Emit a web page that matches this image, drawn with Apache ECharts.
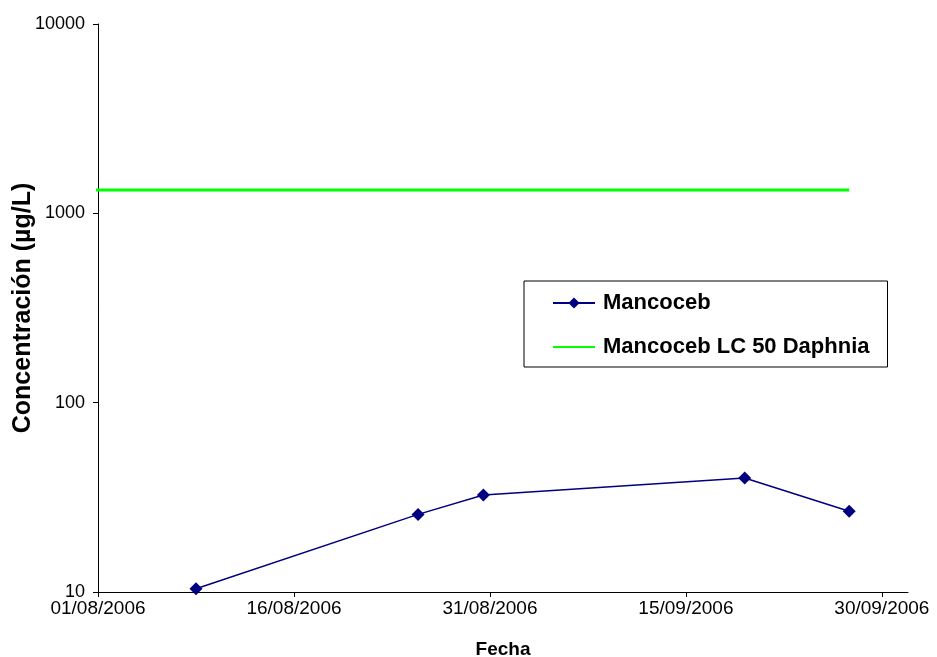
<!DOCTYPE html>
<html>
<head>
<meta charset="utf-8">
<script src="https://cdn.jsdelivr.net/npm/echarts@6/dist/echarts.min.js"></script>
<style>
html,body{margin:0;padding:0;background:#fff;}
#chart{width:937px;height:657px;}
</style>
</head>
<body>
<div id="chart"></div>
<script>
// Data
const axisStartDate = '2006-08-01';
const axisEndDate = '2006-10-02';
const tickStepDays = 15;
const mancocebDates = ['2006-08-08', '2006-08-25', '2006-08-30', '2006-09-19', '2006-09-27'];
const mancocebValues = [10.4, 25.7, 32.5, 40.0, 26.7];
const lc50Dates = ['2006-07-31', '2006-09-27'];
const lc50Values = [1330, 1330];
const yTicks = [10, 100, 1000, 10000];

const DAY = 86400000;
const t0 = Date.parse(axisStartDate + 'T00:00:00Z');
// days since axis start; Excel date axis puts each date at the middle of its day
function dayPos(d) { return (Date.parse(d + 'T00:00:00Z') - t0) / DAY + 0.5; }
function pad(n) { return (n < 10 ? '0' : '') + n; }
function fmt(days) {
  const d = new Date(t0 + Math.round(days) * DAY);
  return pad(d.getUTCDate()) + '/' + pad(d.getUTCMonth() + 1) + '/' + d.getUTCFullYear();
}
const xMax = (Date.parse(axisEndDate + 'T00:00:00Z') - t0) / DAY;

const FONT = "'Liberation Sans', Arial, sans-serif";
const chart = echarts.init(document.getElementById('chart'), null, {renderer: 'canvas'});
chart.setOption({
  animation: false,
  backgroundColor: '#fff',
  grid: {left: 98, right: 29, top: 24, bottom: 65, containLabel: false, outerBoundsMode: 'none'},
  legend: {
    orient: 'vertical',
    left: 524, top: 281,
    padding: [11, 18, 9, 28],
    borderColor: '#000', borderWidth: 1,
    backgroundColor: '#fff',
    itemWidth: 42, itemHeight: 14,
    itemGap: 22,
    textStyle: {fontFamily: FONT, fontSize: 22, fontWeight: 'bold', color: '#000', lineHeight: 22, padding: [0, 0, 0, 3]},
    data: [
      {name: 'Mancoceb'},
      {name: 'Mancoceb LC 50 Daphnia', itemStyle: {color: 'rgba(0,0,0,0)', borderColor: 'rgba(0,0,0,0)', borderWidth: 0}}
    ]
  },
  xAxis: {
    type: 'value',
    min: 0, max: xMax, interval: tickStepDays,
    name: 'Fecha', nameLocation: 'middle', nameGap: 48, nameMoveOverlap: false,
    nameTextStyle: {fontFamily: FONT, fontSize: 19, fontWeight: 'bold', color: '#000'},
    axisLine: {show: true, lineStyle: {color: '#000', width: 1}},
    axisTick: {show: true, length: 5, lineStyle: {color: '#000'}},
    axisLabel: {fontFamily: FONT, fontSize: 19, color: '#000', margin: 7, formatter: v => fmt(v), showMaxLabel: false},
    splitLine: {show: false}
  },
  yAxis: {
    type: 'log', logBase: 10, min: yTicks[0], max: yTicks[yTicks.length - 1],
    name: 'Concentración (µg/L)', nameLocation: 'middle', nameGap: 62, nameRotate: 90, nameMoveOverlap: false,
    nameTextStyle: {fontFamily: FONT, fontSize: 25, fontWeight: 'bold', color: '#000'},
    axisLine: {show: true, lineStyle: {color: '#000', width: 1}},
    axisTick: {show: true, length: 5, lineStyle: {color: '#000'}},
    axisLabel: {fontFamily: FONT, fontSize: 18, color: '#000', margin: 13, formatter: v => String(Math.round(v))},
    splitLine: {show: false}
  },
  series: [
    {
      name: 'Mancoceb', type: 'line',
      data: mancocebDates.map((d, i) => [dayPos(d), mancocebValues[i]]),
      symbol: 'diamond', symbolSize: 13,
      lineStyle: {color: '#000080', width: 1.5},
      itemStyle: {color: '#000080'},
      z: 3
    },
    {
      name: 'Mancoceb LC 50 Daphnia', type: 'line',
      data: lc50Dates.map((d, i) => [dayPos(d), lc50Values[i]]),
      symbol: 'none', clip: false,
      lineStyle: {color: '#00ff00', width: 3},
      itemStyle: {color: '#00ff00'},
      z: 2
    }
  ]
});
</script>
</body>
</html>
